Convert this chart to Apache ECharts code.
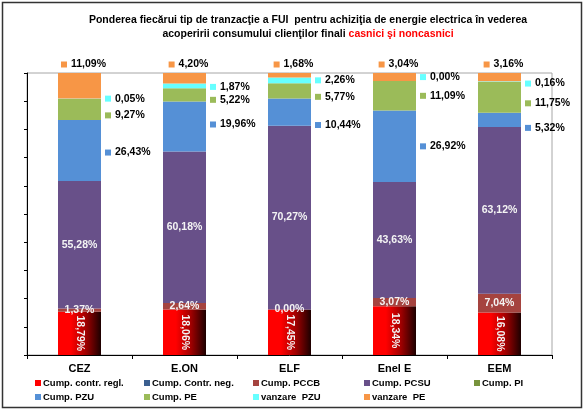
<!DOCTYPE html>
<html><head><meta charset="utf-8">
<script src="https://cdn.jsdelivr.net/npm/echarts@6/dist/echarts.min.js"></script>
<style>html,body{margin:0;padding:0;background:#fff}#c{width:585px;height:411px}</style>
</head><body><div id="c"></div>
<script>
// ---- data (values as printed on the reference, in %) ----
const categories = ['CEZ', 'E.ON', 'ELF', 'Enel E', 'EEM'];
const contrRegl  = [18.79, 18.06, 17.45, 18.34, 16.08];
const contrNeg   = [0, 0, 0, 0, 0];
const pccb       = [1.37, 2.64, 0.00, 3.07, 7.04];
const pcsu       = [55.28, 60.18, 70.27, 43.63, 63.12];
const pi         = [0, 0, 0, 0, 0];
const pzu        = [26.43, 19.96, 10.44, 26.92, 5.32];
const pe         = [9.27, 5.22, 5.77, 11.09, 11.75];
const vanzarePzu = [0.05, 1.87, 2.26, 0.00, 0.16];
const vanzarePe  = [11.09, 4.20, 1.68, 3.04, 3.16];
const yTicks = [0, 10, 20, 30, 40, 50, 60, 70, 80, 90, 100];

// ---- styling / layout ----
const FONT = 'Liberation Sans, Arial, sans-serif';
const C = {
  regl: '#ff0000', neg: '#3b5f8f', pccb: '#a5433f', pcsu: '#685089',
  pi: '#77933c', pzu: '#5590d6', pe: '#9bbb59', vpzu: '#66ffff', vpe: '#f79646'
};
// vertical label nudges (px) for the right-side labels, as in the reference
const nudgePzu  = [2, -2, 13, 0, 8];
const nudgePe   = [6, 5, 6, 0, 6];
const nudgeVPzu = [0, 1, 0, -4, 2];

const all = [contrRegl, contrNeg, pccb, pcsu, pi, pzu, pe, vanzarePzu, vanzarePe];
const totals = categories.map((_, i) => all.reduce((s, a) => s + a[i], 0));
const fmt = v => v.toFixed(2).replace('.', ',') + '%';

function mk(arr, nudge) {
  return arr.map((v, i) => {
    const d = { value: v / totals[i] * 100, raw: v };
    if (nudge) d.label = { offset: [0, nudge[i]] };
    return d;
  });
}

const whiteLbl = {
  show: true, position: 'inside', color: '#f4f4f4', fontFamily: FONT,
  fontWeight: 'bold', fontSize: 10.5, formatter: p => fmt(p.data.raw)
};
function markLbl(color, position, distance) {
  return {
    show: true, position, distance, fontFamily: FONT,
    formatter: p => '{m|}{v|' + fmt(p.data.raw) + '}',
    rich: {
      m: { width: 6, height: 6, backgroundColor: color },
      v: { fontFamily: FONT, fontWeight: 'bold', fontSize: 10.5, color: '#000', padding: [0, 0, 0, 4] }
    }
  };
}

const redGrad = new echarts.graphic.LinearGradient(0, 0, 1, 0, [
  { offset: 0, color: '#ff0000' }, { offset: 0.3, color: '#ff0000' },
  { offset: 0.65, color: '#a00000' }, { offset: 1, color: '#1c0000' }
]);

const base = { type: 'bar', stack: 'tot', barWidth: 43, emphasis: { disabled: true } };
const series = [
  Object.assign({}, base, { name: 'Cump. contr. regl.', data: mk(contrRegl), itemStyle: { color: redGrad },
    label: Object.assign({}, whiteLbl, { rotate: -90 }) }),
  Object.assign({}, base, { name: 'Cump. Contr. neg.', data: mk(contrNeg), itemStyle: { color: C.neg }, label: { show: false } }),
  Object.assign({}, base, { name: 'Cump. PCCB', data: mk(pccb), itemStyle: { color: C.pccb }, label: whiteLbl }),
  Object.assign({}, base, { name: 'Cump. PCSU', data: mk(pcsu), itemStyle: { color: C.pcsu }, label: whiteLbl }),
  Object.assign({}, base, { name: 'Cump. PI', data: mk(pi), itemStyle: { color: C.pi }, label: { show: false } }),
  Object.assign({}, base, { name: 'Cump. PZU', data: mk(pzu, nudgePzu), itemStyle: { color: C.pzu }, label: markLbl(C.pzu, 'right', 4) }),
  Object.assign({}, base, { name: 'Cump. PE', data: mk(pe, nudgePe), itemStyle: { color: C.pe }, label: markLbl(C.pe, 'right', 4) }),
  Object.assign({}, base, { name: 'vanzare  PZU', data: mk(vanzarePzu, nudgeVPzu), itemStyle: { color: C.vpzu }, label: markLbl(C.vpzu, 'right', 4) }),
  Object.assign({}, base, { name: 'vanzare  PE', data: mk(vanzarePe).map(d => Object.assign(d, { label: { offset: [4, 0] } })), itemStyle: { color: C.vpe }, label: markLbl(C.vpe, 'top', 3) })
];

const legendColors = [C.regl, C.neg, C.pccb, C.pcsu, C.pi, C.pzu, C.pe, C.vpzu, C.vpe];
const legendItems = series.map((s, i) => ({ name: s.name, itemStyle: { color: legendColors[i] } }));
// legend laid out as a 5-column grid (Excel style): column i holds items i and i+5
const legendColX = [35, 144, 253, 364, 474];
const legends = legendColX.map((x, i) => ({
  orient: 'vertical', left: x, top: 378, itemWidth: 6, itemHeight: 6, icon: 'rect', itemGap: 4,
  selectedMode: false, padding: 0,
  data: legendItems.filter((_, k) => k % 5 === i),
  textStyle: { fontFamily: FONT, fontWeight: 'bold', fontSize: 9.5, color: '#000', padding: [0, 0, 0, -3] }
}));

const chart = echarts.init(document.getElementById('c'), null, { renderer: 'canvas' });
chart.setOption({
  animation: false,
  backgroundColor: '#fff',
  grid: { left: 27, top: 73, width: 525, height: 282, show: true, borderColor: '#a6a6a6', borderWidth: 1, containLabel: false },
  xAxis: {
    type: 'category', data: categories,
    axisLine: { lineStyle: { color: '#000', width: 1 } },
    axisTick: { show: true, length: 4, lineStyle: { color: '#000' } },
    axisLabel: { fontFamily: FONT, fontWeight: 'bold', fontSize: 11, color: '#000', margin: 8 }
  },
  yAxis: {
    type: 'value', min: yTicks[0], max: yTicks[yTicks.length - 1], interval: yTicks[1] - yTicks[0],
    axisLine: { show: true, lineStyle: { color: '#000', width: 1 } },
    axisTick: { show: true, length: 3, lineStyle: { color: '#000' } },
    axisLabel: { show: false }, splitLine: { show: false }
  },
  legend: legends,
  graphic: [
    { type: 'rect', shape: { x: 2.5, y: 2.5, width: 579, height: 405 }, style: { fill: null, stroke: '#333', lineWidth: 1.5 }, silent: true },
    { type: 'text', x: 308, y: 20, silent: true, style: {
      text: 'Ponderea fiecărui tip de tranzacţie a FUI  pentru achiziţia de energie electrica în vederea',
      font: 'bold 10.5px ' + FONT, fill: '#000', align: 'center', verticalAlign: 'middle' } },
    { type: 'text', x: 308, y: 34, silent: true, style: {
      text: '{a|acoperirii consumului clienţilor finali }{r|casnici şi noncasnici}',
      align: 'center', verticalAlign: 'middle',
      rich: {
        a: { font: 'bold 10.5px ' + FONT, fill: '#000' },
        r: { font: 'bold 10.5px ' + FONT, fill: '#ff0000' }
      } } }
  ],
  series
});
</script></body></html>
